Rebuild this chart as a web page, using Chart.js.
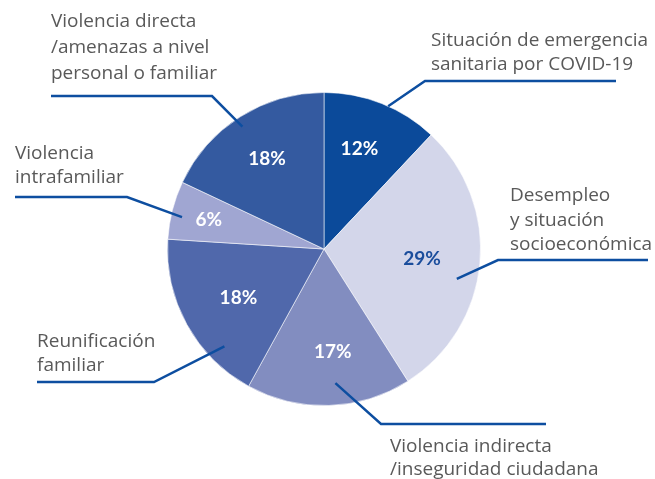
<!DOCTYPE html>
<html>
<head>
<meta charset="utf-8">
<script src="https://cdn.jsdelivr.net/npm/chart.js@4"></script>
<style>
  html, body { margin: 0; padding: 0; background: #ffffff; }
  #wrap { width: 655px; height: 479px; }
</style>
</head>
<body>
<div id="wrap"><canvas id="c" width="655" height="479"></canvas></div>
<script>
// ---- data ----
const categories = [
  "Situación de emergencia sanitaria por COVID-19",
  "Desempleo y situación socioeconómica",
  "Violencia indirecta /inseguridad ciudadana",
  "Reunificación familiar",
  "Violencia intrafamiliar",
  "Violencia directa /amenazas a nivel personal o familiar"
];
const values = [12, 29, 17, 18, 6, 18];
const labelLines = [
  ["Situación de emergencia", "sanitaria por COVID-19"],
  ["Desempleo", "y situación", "socioeconómica"],
  ["Violencia indirecta", "/inseguridad ciudadana"],
  ["Reunificación", "familiar"],
  ["Violencia", "intrafamiliar"],
  ["Violencia directa", "/amenazas a nivel", "personal o familiar"]
];

// ---- styles / layout ----
const sliceColors = ["#0b4a9a", "#d3d6ea", "#828dc0", "#5068ab", "#a0a6d2", "#345aa0"];
const pctColors = ["#ffffff", "#1a4d9c", "#ffffff", "#ffffff", "#ffffff", "#ffffff"];
// percent label placement: fraction along slice angle, fraction of radius
const pctPlace = [[0.45, 0.68], [0.505, 0.63], [0.45, 0.66], [0.485, 0.63], [0.49, 0.76], [0.5, 0.68]];
// leader start on slice: fraction along slice angle, fraction of radius
const leaderStart = [[0.56, 1.0], [0.57, 0.87], [0.45, 0.86], [0.26, 0.89], [0.42, 0.93], [0.48, 0.94]];
// leader elbow and end (pixel layout)
const leaderPath = [
  [[425, 81], [616, 81]],
  [[498, 260], [648, 260]],
  [[381, 424], [546, 424]],
  [[154, 382], [37, 382]],
  [[127, 197], [15, 197]],
  [[212, 96], [51, 96]]
];
// text block: left x, first baseline, line height
const textPos = [
  [431, 46, 24],
  [510, 201, 24.5],
  [390, 452, 23],
  [37, 347, 23.5],
  [15, 159, 24],
  [51, 27, 26]
];
const textFont = '19px "Open Sans"';
const pctFont = 'bold 19px Lato';
const leaderColor = "#0d4ea0";
const textColor = "#595959";

const annotate = {
  id: 'annotate',
  afterDatasetsDraw(chart) {
    const ctx = chart.ctx;
    const arcs = chart.getDatasetMeta(0).data;
    arcs.forEach((arc, i) => {
      const { x, y, startAngle, endAngle, outerRadius } = arc.getProps(['x','y','startAngle','endAngle','outerRadius'], true);
      // percent
      const [pt, pr] = pctPlace[i];
      const pa = startAngle + pt * (endAngle - startAngle);
      ctx.save();
      ctx.font = pctFont;
      ctx.fillStyle = pctColors[i];
      ctx.textAlign = 'center';
      ctx.textBaseline = 'middle';
      ctx.fillText(values[i] + '%', x + Math.cos(pa) * pr * outerRadius, y + Math.sin(pa) * pr * outerRadius);
      ctx.restore();
      // leader line
      const [lt, lr] = leaderStart[i];
      const la = startAngle + lt * (endAngle - startAngle);
      ctx.save();
      ctx.strokeStyle = leaderColor;
      ctx.lineWidth = 2.5;
      ctx.lineJoin = 'miter';
      ctx.beginPath();
      ctx.moveTo(x + Math.cos(la) * lr * outerRadius, y + Math.sin(la) * lr * outerRadius);
      ctx.lineTo(leaderPath[i][0][0], leaderPath[i][0][1]);
      ctx.lineTo(leaderPath[i][1][0], leaderPath[i][1][1]);
      ctx.stroke();
      ctx.restore();
      // text
      ctx.save();
      ctx.font = textFont;
      ctx.fillStyle = textColor;
      ctx.textAlign = 'left';
      ctx.textBaseline = 'alphabetic';
      const [tx, ty, lh] = textPos[i];
      labelLines[i].forEach((ln, k) => ctx.fillText(ln, tx, ty + k * lh));
      ctx.restore();
    });
  }
};

new Chart(document.getElementById('c'), {
  type: 'pie',
  data: {
    labels: categories,
    datasets: [{
      data: values,
      backgroundColor: sliceColors,
      borderColor: 'rgba(255,255,255,0.55)',
      borderWidth: 1
    }]
  },
  options: {
    responsive: false,
    animation: false,
    layout: { padding: { top: 92, bottom: 73, left: 167, right: 174 } },
    plugins: { legend: { display: false }, tooltip: { enabled: false } }
  },
  plugins: [annotate]
});
</script>
</body>
</html>
